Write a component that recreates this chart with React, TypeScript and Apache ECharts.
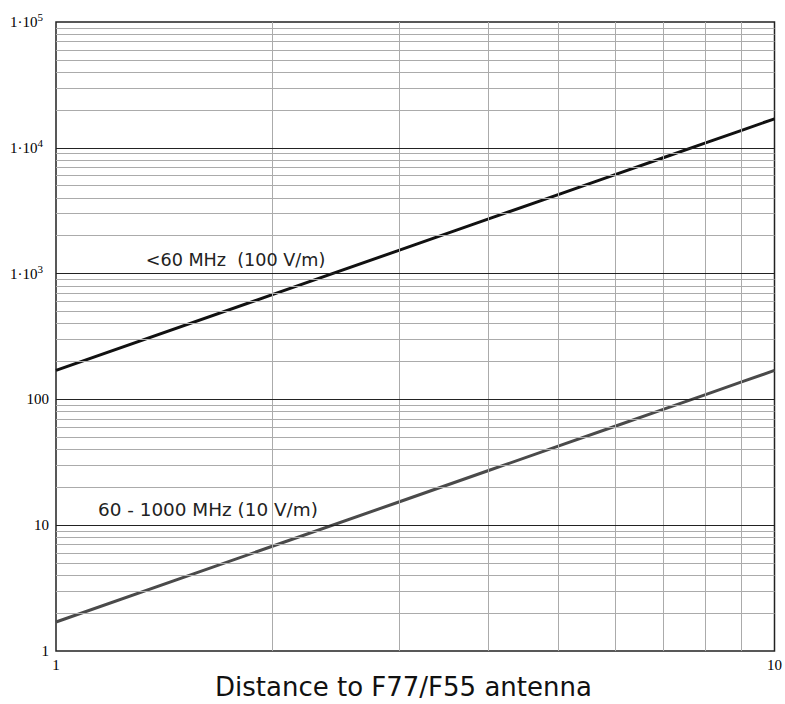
import React, { useEffect, useRef } from "react";
import * as echarts from "echarts";

const distances = [1, 2, 3, 4, 5, 6, 7, 8, 9, 10];
const below60MHz = [170, 680, 1530, 2720, 4250, 6120, 8330, 10880, 13770, 17000];
const mhz60to1000 = [1.7, 6.8, 15.3, 27.2, 42.5, 61.2, 83.3, 108.8, 137.7, 170];
const xMinorGrid = [2, 3, 4, 5, 6, 7, 8, 9];
const yDecades = [1, 10, 100, 1000, 10000];
const yMajorGrid = [10, 100, 1000, 10000];
const xTitle = "Distance to F77/F55 antenna";
const label1 = "<60 MHz  (100 V/m)";
const label2 = "60 - 1000 MHz (10 V/m)";

export default function App() {
  const ref = useRef<HTMLDivElement>(null);
  useEffect(() => {
    if (!ref.current) return;
    const chart = echarts.init(ref.current, null, { renderer: "svg" });
    const yMinor: any[] = [];
    yDecades.forEach((d) => {
      for (let k = 2; k <= 9; k++) yMinor.push({ yAxis: d * k });
    });
    const xMinor = xMinorGrid.map((v) => ({ xAxis: v }));
    const sansFont = "'DejaVu Sans', Verdana, sans-serif";
    const serifFont = "'Liberation Serif', 'DejaVu Serif', serif";
    chart.setOption({
      animation: false,
      grid: {
        left: 56,
        right: 9,
        top: 22,
        bottom: 53,
        show: true,
        borderColor: "#222",
        borderWidth: 1.5,
        backgroundColor: "transparent",
      },
      xAxis: {
        type: "log",
        logBase: 10,
        min: 1,
        max: 10,
        axisLine: { show: false },
        axisTick: { show: false },
        splitLine: { show: false },
        axisLabel: {
          fontFamily: serifFont,
          fontSize: 15,
          color: "#000",
          margin: 6,
        },
      },
      yAxis: {
        type: "log",
        logBase: 10,
        min: 1,
        max: 100000,
        axisLine: { show: false },
        axisTick: { show: false },
        splitLine: { show: false },
        axisLabel: {
          fontFamily: serifFont,
          fontSize: 15,
          color: "#000",
          margin: 7,
          formatter: (v: number) => {
            const e = Math.round(Math.log10(v));
            if (e >= 3) return "{n|1·10}{sup|" + e + "}";
            return "{n|" + String(Math.round(v)) + "}";
          },
          rich: {
            n: {
              fontFamily: serifFont,
              fontSize: 15,
              color: "#000",
            },
            sup: {
              fontFamily: serifFont,
              fontSize: 11,
              color: "#000",
              padding: [0, 6, 10, 0],
            },
          },
        },
      },
      graphic: [
        {
          type: "text",
          left: 215,
          top: 674,
          style: {
            text: xTitle,
            fontFamily: sansFont,
            fontSize: 26,
            fill: "#111",
          },
        },
      ],
      series: [
        {
          type: "line",
          data: [],
          silent: true,
          z: 1,
          markLine: {
            silent: true,
            symbol: ["none", "none"],
            label: { show: false },
            emphasis: { disabled: true },
            lineStyle: { color: "#ababab", width: 1, type: "solid" },
            data: [...yMinor, ...xMinor],
          },
        },
        {
          type: "line",
          data: [],
          silent: true,
          z: 2,
          markLine: {
            silent: true,
            symbol: ["none", "none"],
            label: { show: false },
            emphasis: { disabled: true },
            lineStyle: { color: "#222", width: 1.2, type: "solid" },
            data: yMajorGrid.map((v) => ({ yAxis: v })),
          },
        },
        {
          type: "line",
          name: label1,
          data: distances.map((d, i) => [d, below60MHz[i]]),
          showSymbol: false,
          symbol: "none",
          z: 3,
          lineStyle: { color: "#111", width: 3 },
          markPoint: {
            symbol: "circle",
            symbolSize: 0,
            silent: true,
            data: [
              {
                coord: [1.333, 1290],
                label: {
                  show: true,
                  formatter: label1,
                  position: "right",
                  distance: 0,
                  fontFamily: sansFont,
                  fontSize: 17.6,
                  color: "#222",
                },
              },
            ],
          },
        },
        {
          type: "line",
          name: label2,
          data: distances.map((d, i) => [d, mhz60to1000[i]]),
          showSymbol: false,
          symbol: "none",
          z: 3,
          lineStyle: { color: "#4a4a4a", width: 3 },
          markPoint: {
            symbol: "circle",
            symbolSize: 0,
            silent: true,
            data: [
              {
                coord: [1.144, 13.4],
                label: {
                  show: true,
                  formatter: label2,
                  position: "right",
                  distance: 0,
                  fontFamily: sansFont,
                  fontSize: 18.4,
                  color: "#222",
                },
              },
            ],
          },
        },
      ],
    });
    return () => chart.dispose();
  }, []);
  return (
    <div
      ref={ref}
      style={{ width: 785, height: 704, position: "absolute", left: 0, top: 0 }}
    />
  );
}
